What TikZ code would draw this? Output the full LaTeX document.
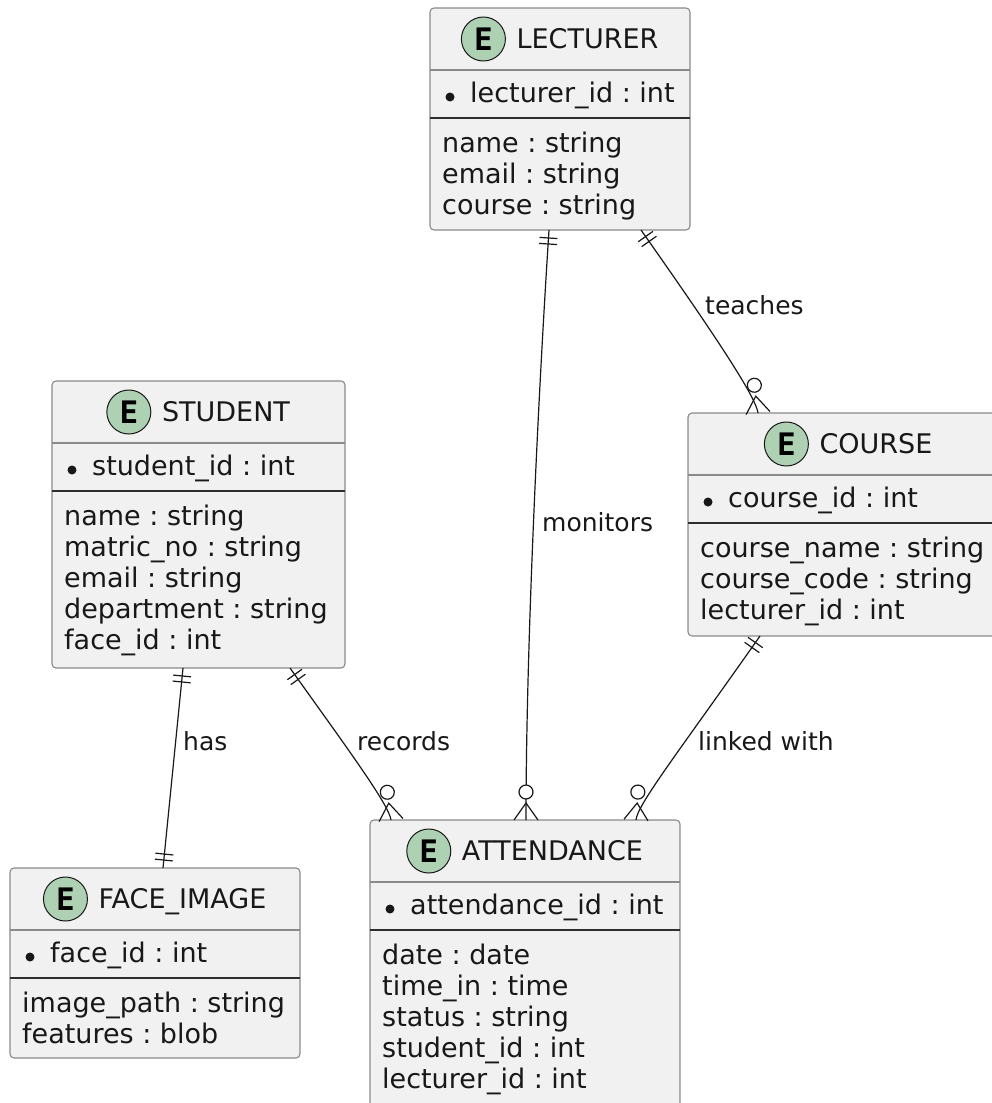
\documentclass[tikz,border=0pt]{standalone}
\usepackage{fontspec}
\setmainfont{DejaVu Sans}
\newfontfamily\badgefont{DejaVu Sans Mono}
\usetikzlibrary{calc}
\frenchspacing

\definecolor{entfill}{HTML}{F1F1F1}
\definecolor{entdraw}{HTML}{8A8A8A}
\definecolor{keyrulecol}{HTML}{2E2E2E}
\definecolor{badgefill}{HTML}{ADD1B2}
\definecolor{ink}{HTML}{181818}

% exactly-one end: two bars across the line
\pgfdeclarearrow{
  name = erone,
  setup code = {
    \pgfarrowssettipend{0pt}
    \pgfarrowssetlineend{0pt}
    \pgfarrowssetbackend{-16pt}
    \pgfarrowssetvisualbackend{-16pt}
    \pgfarrowshullpoint{-7pt}{9pt}
    \pgfarrowshullpoint{-7pt}{-9pt}
    \pgfarrowshullpoint{-15pt}{9pt}
    \pgfarrowshullpoint{-15pt}{-9pt}
  },
  drawing code = {
    \pgfpathmoveto{\pgfpoint{-8pt}{9pt}}
    \pgfpathlineto{\pgfpoint{-8pt}{-9pt}}
    \pgfpathmoveto{\pgfpoint{-14pt}{9pt}}
    \pgfpathlineto{\pgfpoint{-14pt}{-9pt}}
    \pgfusepathqstroke
  }
}

% zero-or-many end: crow's foot with a ring behind it
\pgfdeclarearrow{
  name = ermany,
  setup code = {
    \pgfarrowssettipend{0pt}
    \pgfarrowssetlineend{0pt}
    \pgfarrowssetbackend{-36pt}
    \pgfarrowssetvisualbackend{-36pt}
    \pgfarrowshullpoint{0pt}{12pt}
    \pgfarrowshullpoint{0pt}{-12pt}
    \pgfarrowshullpoint{-36pt}{7pt}
    \pgfarrowshullpoint{-36pt}{-7pt}
  },
  drawing code = {
    \pgfpathmoveto{\pgfpoint{0pt}{12pt}}
    \pgfpathlineto{\pgfpoint{-17pt}{0pt}}
    \pgfpathlineto{\pgfpoint{0pt}{-12pt}}
    \pgfusepathqstroke
    \pgfpathcircle{\pgfpoint{-28pt}{0pt}}{7pt}
    \pgfsetfillcolor{white}
    \pgfusepathqfillstroke
  }
}

% entity box: name, left, top, width, title, key field, attribute list, box height
\newcommand\erentity[8]{%
  \node[entbox, minimum width=#4pt, minimum height=#8pt, anchor=north west] (#1) at (#2,#3) {};
  \draw[hdrrule] ([yshift=-62pt]#1.north west) -- ([yshift=-62pt]#1.north east);
  \draw[keyrule] ([yshift=-110pt]#1.north west) -- ([yshift=-110pt]#1.north east);
  \node[titletext] (#1-title) at ([xshift=27.5pt,yshift=-40pt]#1.north) {#5};
  \node[badge] (#1-badge) at ([xshift=-33pt,yshift=9pt]#1-title.base west) {E};
  \fill[keydot] ([xshift=20pt,yshift=-89pt]#1.north west) circle (4.5pt);
  \node[attrtext] (#1-key) at ([xshift=40pt,yshift=-94pt]#1.north west) {#6};
  \foreach \a [count=\i] in {#7} {
    \node[attrtext] (#1-attr\i) at ([xshift=12pt,yshift={-144pt-31pt*(\i-1)}]#1.north west) {\a};
  }%
}

\begin{document}
\begin{tikzpicture}[x=1pt, y=-1pt,
  entbox/.style={draw=entdraw, line width=1.1pt, fill=entfill, rounded corners=4pt, inner sep=0pt, outer sep=0pt},
  hdrrule/.style={draw=entdraw, line width=1.1pt},
  keyrule/.style={draw=keyrulecol, line width=1.5pt},
  titletext/.style={anchor=base, inner sep=0pt, font=\fontsize{27}{31}\selectfont, text=ink},
  badge/.style={circle, draw=ink, line width=1pt, fill=badgefill, minimum size=44pt, inner sep=0pt, text=black,
    font=\badgefont\bfseries\fontsize{31}{31}\selectfont},
  attrtext/.style={anchor=base west, inner sep=0pt, font=\fontsize{27}{31}\selectfont, text=ink},
  keydot/.style={fill=ink},
  conn/.style={draw=ink, line width=1.2pt},
  rlabel/.style={anchor=base west, inner sep=0pt, font=\fontsize{25}{29}\selectfont, text=ink}
]
\path[use as bounding box] (0,0) rectangle (992,1103);
\clip (0,0) rectangle (992,1103);

\erentity{lecturer}{430}{8}{260}{LECTURER}{lecturer\_id : int}{name : string, email : string, course : string}{222}
\erentity{student}{52}{381}{293}{STUDENT}{student\_id : int}{name : string, matric\_no : string, email : string, department : string, face\_id : int}{287}
\erentity{course}{688}{413}{321}{COURSE}{course\_id : int}{course\_name : string, course\_code : string, lecturer\_id : int}{223}
\erentity{attendance}{370}{820}{310}{ATTENDANCE}{attendance\_id : int}{date : date, time\_in : time, status : string, student\_id : int, lecturer\_id : int}{292}
\erentity{faceimage}{10}{868}{290}{FACE\_IMAGE}{face\_id : int}{image\_path : string, features : blob}{190}

% relationships
\draw[conn, erone-ermany] ([xshift=119pt]lecturer.south west)
  .. controls (538,400) and (526,650) .. ([xshift=156pt]attendance.north west);
\node[rlabel] (lbl-monitors) at (542,531) {monitors};

\draw[conn, erone-ermany] ([xshift=211pt]lecturer.south west)
  .. controls (722,345) and (756,398) .. ([xshift=70pt]course.north west);
\node[rlabel] (lbl-teaches) at (705,314) {teaches};

\draw[conn, erone-erone] ([xshift=131pt]student.south west) -- ([xshift=153pt]faceimage.north west);
\node[rlabel] (lbl-has) at (183,750) {has};

\draw[conn, erone-ermany] ([xshift=238pt]student.south west)
  .. controls (350,752) and (389,805) .. ([xshift=21pt]attendance.north west);
\node[rlabel] (lbl-records) at (357,750) {records};

\draw[conn, erone-ermany] ([xshift=72pt]course.south west)
  .. controls (680,750) and (637,805) .. ([xshift=266pt]attendance.north west);
\node[rlabel] (lbl-linked) at (698,750) {linked with};
\end{tikzpicture}
\end{document}
